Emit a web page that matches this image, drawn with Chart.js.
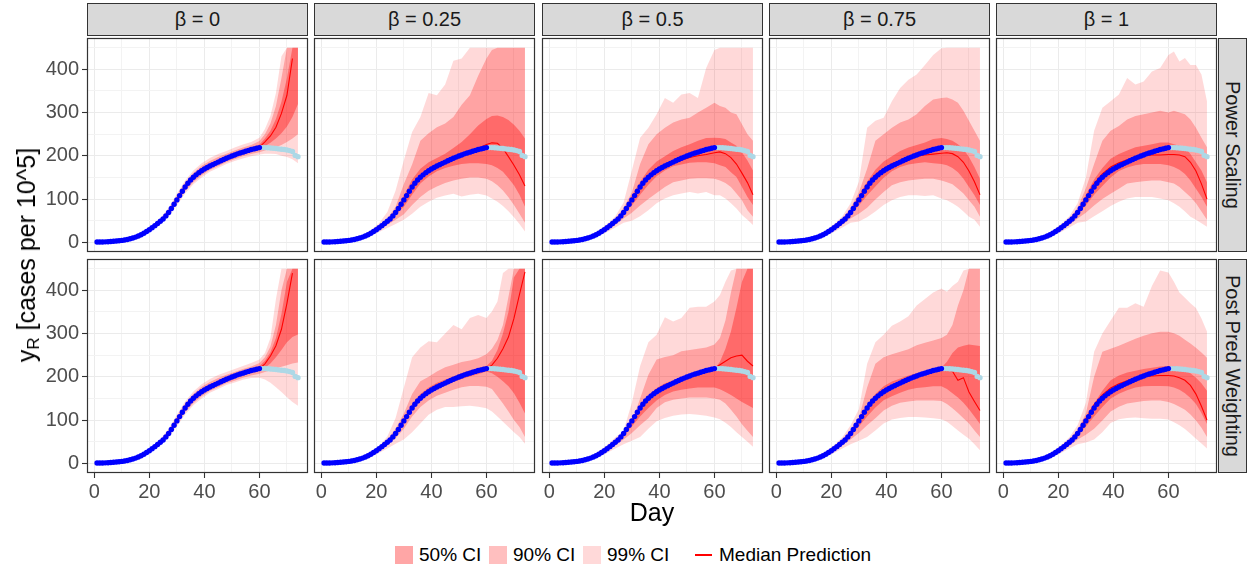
<!DOCTYPE html>
<html>
<head>
<meta charset="utf-8">
<script src="https://cdn.jsdelivr.net/npm/chart.js@4.4.1/dist/chart.umd.min.js"></script>
<style>
  body { margin: 0; background: #fff; font-family: "Liberation Sans", Arial, sans-serif; }
  #wrap { position: relative; width: 1249px; height: 571px; overflow: hidden; background: #fff; }
  canvas { position: absolute; }
  .strip { position: absolute; box-sizing: border-box; background: #d9d9d9; border: 1px solid #333;
           color: #1a1a1a; font-size: 20px; display: flex; align-items: center; justify-content: center; white-space: nowrap; }
  .rstrip { writing-mode: vertical-rl; }
  .title { position: absolute; color: #000; font-size: 25px; white-space: nowrap; }
  .title sub { font-size: 17px; vertical-align: -4px; }
  .lg { position: absolute; font-size: 19px; color: #000; white-space: nowrap; }
  .sw { position: absolute; width: 18px; height: 18px; }
</style>
</head>
<body>
<div id="wrap"></div>
<script>
// observed cases, days 1-60 (blue) and held-out days 61-74 (light blue)
const obsDays = Array.from({ length: 60 }, (_, i) => i + 1);
const observed = [0.5, 0.6, 0.8, 1, 1.3, 1.7, 2.2, 2.8, 3.5, 4.3, 5.3, 6.5, 8, 9.8, 12, 14.5, 17.5, 21, 25, 29,
  33.5, 38.5, 43.5, 48.5, 54, 61, 69, 78, 88, 98, 108, 118, 128, 136.5, 144, 150.5, 156, 161, 165.5, 169.5,
  173, 176.5, 179.5, 182.5, 185.5, 188.5, 191.5, 194.5, 197, 199.5, 202, 204.5, 206.5, 208.5, 210.5, 212.5, 214.5, 216, 217.5, 219];
const heldDays = [61, 62, 63, 64, 65, 66, 67, 68, 69, 70, 71, 72, 73, 74];
const heldOut = [219, 219, 218.5, 218, 217.5, 217, 216, 215, 214.5, 213.5, 212, 210, 201, 198];

// days at which the prediction bands were read
const bandDays = [1, 10, 15, 18, 21, 24, 27, 30, 33, 36, 39, 42, 45, 48, 51, 54, 57, 60, 62, 64, 66, 68, 70, 72, 74];

const rowLabels = ['Power Scaling', 'Post Pred Weighting'];
const betaLabels = ['0', '0.25', '0.5', '0.75', '1'];

const xTicks = [0, 10, 20, 30, 40, 50, 60, 70];
const yTicks = [0, 50, 100, 150, 200, 250, 300, 350, 400, 450];

// Power Scaling row
const PS_0 = {
  med:  [0.5, 4.3, 12, 21, 33.5, 49, 70, 99, 129, 150, 166, 177, 186, 195, 202, 209, 214, 220, 232, 246, 266, 298, 340, 425, null],
  hi50: [0.6, 5, 13, 22, 35, 51, 73, 103, 133, 155, 171, 182, 191, 199, 206, 213, 219, 226, 240, 258, 285, 325, 380, 450, 450],
  lo50: [0.4, 3.8, 11, 20, 32, 47, 67, 95, 124, 145, 161, 172, 181, 190, 197, 204, 210, 214, 222, 230, 240, 252, 268, 290, 320],
  hi90: [0.7, 5.5, 14, 24, 37, 53, 76, 107, 138, 160, 177, 188, 197, 205, 212, 219, 225, 234, 250, 275, 315, 380, 450, 450, 450],
  lo90: [0.3, 3.3, 10, 18.5, 30, 44, 63, 90, 118, 139, 155, 167, 176, 185, 192, 199, 204, 208, 212, 216, 220, 225, 232, 240, 250],
  hi99: [0.8, 6, 15, 25, 39, 56, 80, 112, 143, 166, 183, 195, 204, 211, 219, 226, 232, 242, 262, 292, 345, 430, 450, 450, 450],
  lo99: [0.2, 2.8, 9, 17, 28, 41, 59, 85, 113, 134, 150, 163, 172, 181, 188, 194, 199, 203, 205, 205, 204, 200, 197, 192, 183]
};
const PS_25 = {
  med:  [0.5, 4.3, 12, 21, 33.5, 49, 70, 99, 130, 153, 168, 179, 189, 197, 204, 210, 217, 226, 230, 229, 217, 198, 178, 156, 130],
  hi50: [0.6, 5, 13, 22.5, 35, 51, 75, 108, 145, 170, 185, 195, 205, 218, 232, 250, 270, 285, 292, 293, 290, 283, 272, 258, 240],
  lo50: [0.4, 3.8, 11, 19.5, 31, 45, 63, 82, 110, 136, 152, 164, 172, 177, 181, 183, 183, 181, 178, 172, 163, 148, 132, 110, 82],
  hi90: [0.7, 5.8, 15, 25, 38, 55, 82, 135, 180, 235, 252, 266, 275, 290, 318, 340, 385, 425, 445, 450, 450, 450, 450, 450, 450],
  lo90: [0.3, 3.2, 9.5, 17, 28, 40, 52, 65, 86, 105, 119, 129, 137, 143, 147, 150, 150, 147, 141, 132, 120, 104, 86, 66, 45],
  hi99: [0.8, 6.5, 17, 28, 44, 70, 120, 190, 255, 290, 345, 340, 365, 420, 425, 450, 450, 450, 450, 450, 450, 450, 450, 450, 450],
  lo99: [0.2, 2.6, 8.5, 15, 24, 33, 42, 52, 66, 82, 94, 103, 108, 112, 106, 110, 112, 108, 101, 94, 84, 72, 58, 42, 25]
};
const PS_50 = {
  med:  [0.5, 4.3, 12, 21, 33.5, 49, 70, 99, 129, 151, 165, 175, 183, 190, 196, 200, 203, 207, 209, 205, 196, 181, 160, 138, 110],
  hi50: [0.6, 5, 13, 22.5, 35, 51, 74, 108, 140, 168, 187, 199, 211, 220, 227, 235, 241, 242, 241, 239, 231, 223, 208, 189, 166],
  lo50: [0.4, 3.8, 11, 19.5, 31, 45, 64, 85, 110, 133, 153, 166, 176, 180, 184, 185, 185, 183, 178, 174, 162, 151, 128, 105, 86],
  hi90: [0.7, 5.8, 15, 25, 38, 55, 80, 115, 181, 227, 250, 265, 277, 284, 288, 300, 311, 323, 315, 311, 300, 296, 273, 250, 235],
  lo90: [0.3, 3.2, 9.5, 17, 28, 40, 55, 68, 85, 100, 114, 128, 139, 143, 147, 148, 148, 147, 143, 137, 128, 113, 97, 74, 59],
  hi99: [0.8, 6.5, 17, 28, 42, 60, 92, 166, 242, 265, 296, 334, 323, 342, 345, 334, 403, 445, 450, 450, 450, 450, 450, 450, 450],
  lo99: [0.2, 2.6, 8.5, 15, 24, 34, 45, 50, 60, 74, 90, 101, 109, 113, 116, 113, 116, 109, 109, 101, 90, 78, 63, 52, 40]
};
const PS_75 = {
  med:  [0.5, 4.3, 12, 21, 33.5, 49, 71, 101, 133, 156, 171, 181, 188, 194, 199, 202, 204, 206, 207, 205, 198, 185, 165, 140, 110],
  hi50: [0.6, 5, 13, 22.5, 35, 51, 74, 108, 140, 168, 187, 199, 211, 219, 225, 231, 239, 241, 239, 235, 227, 216, 197, 174, 147],
  lo50: [0.4, 3.8, 11, 19.5, 31, 45, 64, 85, 108, 129, 149, 164, 174, 180, 183, 185, 183, 181, 178, 172, 162, 147, 128, 109, 86],
  hi90: [0.7, 5.8, 15, 25, 38, 55, 80, 115, 170, 235, 250, 265, 277, 284, 296, 315, 330, 334, 335, 330, 323, 304, 281, 258, 235],
  lo90: [0.3, 3.2, 9.5, 17, 28, 40, 55, 66, 80, 99, 116, 132, 139, 143, 145, 147, 147, 143, 139, 134, 124, 113, 97, 82, 59],
  hi99: [0.8, 6.5, 17, 28, 42, 60, 90, 140, 265, 281, 288, 326, 357, 376, 388, 410, 433, 449, 450, 450, 450, 450, 450, 450, 450],
  lo99: [0.2, 2.6, 8.5, 15, 24, 34, 45, 48, 58, 71, 86, 97, 105, 109, 109, 107, 109, 101, 97, 90, 82, 71, 59, 52, 36]
};
const PS_100 = {
  med:  [0.5, 4.3, 12, 21, 33.5, 49, 71, 102, 136, 158, 174, 184, 191, 196, 200, 202, 202, 203, 203, 202, 198, 185, 165, 135, 100],
  hi50: [0.6, 5, 13, 22.5, 35, 51, 74, 110, 145, 172, 193, 204, 212, 220, 223, 227, 231, 231, 227, 223, 220, 204, 185, 166, 139],
  lo50: [0.4, 3.8, 11, 19.5, 31, 45, 64, 85, 110, 130, 150, 165, 173, 178, 181, 181, 181, 178, 174, 168, 158, 143, 124, 105, 82],
  hi90: [0.7, 5.8, 15, 25, 38, 55, 80, 125, 181, 235, 258, 269, 284, 292, 296, 300, 304, 300, 304, 300, 296, 284, 265, 242, 220],
  lo90: [0.3, 3.2, 9.5, 17, 28, 40, 55, 68, 85, 100, 112, 124, 136, 139, 141, 143, 143, 139, 136, 128, 116, 105, 90, 71, 52],
  hi99: [0.8, 6.5, 17, 28, 42, 60, 90, 150, 258, 311, 326, 342, 380, 365, 372, 395, 403, 433, 441, 418, 426, 410, 410, 388, 326],
  lo99: [0.2, 2.6, 8.5, 15, 24, 34, 45, 48, 60, 72, 84, 94, 101, 105, 105, 105, 101, 97, 90, 82, 71, 59, 52, 44, 36]
};

// Post Pred Weighting row
const PP_0 = {
  med:  [0.5, 4.3, 12, 21, 33.5, 49, 70, 99, 129, 150, 166, 177, 186, 195, 202, 209, 214, 219, 230, 248, 272, 310, 370, 440, null],
  hi50: [0.6, 5, 13, 22, 35, 51, 73, 103, 133, 155, 171, 182, 191, 199, 205, 212, 218, 225, 237, 257, 290, 345, 420, 450, 450],
  lo50: [0.4, 3.8, 11, 20, 32, 47, 67, 95, 124, 145, 161, 172, 181, 190, 197, 204, 209, 214, 221, 231, 245, 262, 280, 292, 298],
  hi90: [0.7, 5.5, 14, 24, 37, 53, 76, 107, 138, 160, 177, 188, 197, 205, 211, 218, 224, 232, 245, 270, 320, 400, 450, 450, 450],
  lo90: [0.3, 3.3, 10, 18.5, 30, 44, 63, 90, 118, 139, 155, 167, 176, 185, 191, 198, 203, 207, 211, 215, 219, 223, 227, 231, 233],
  hi99: [0.8, 6, 15, 25, 39, 56, 80, 112, 143, 166, 183, 195, 204, 211, 218, 225, 232, 240, 255, 290, 380, 450, 450, 450, 450],
  lo99: [0.2, 2.8, 9, 17, 28, 41, 59, 85, 113, 134, 150, 163, 172, 181, 187, 193, 197, 198, 194, 186, 176, 165, 153, 142, 133]
};
const PP_25 = {
  med:  [0.5, 4.3, 12, 21, 33.5, 49, 70, 99, 129, 151, 166, 178, 187, 195, 202, 209, 214, 220, 227, 243, 265, 292, 335, 390, 443],
  hi50: [0.6, 5, 13, 22.5, 35, 51, 74, 105, 137, 160, 175, 186, 194, 201, 208, 215, 220, 225, 237, 262, 300, 350, 430, 450, 450],
  lo50: [0.4, 3.8, 11, 19.5, 31, 46, 66, 94, 124, 145, 160, 171, 180, 188, 195, 201, 206, 212, 208, 200, 190, 178, 162, 140, 115],
  hi90: [0.7, 5.8, 15, 25, 38, 55, 80, 115, 160, 190, 200, 212, 222, 228, 234, 238, 243, 252, 265, 285, 320, 385, 450, 450, 450],
  lo90: [0.3, 3.2, 9.5, 17, 28, 41, 58, 80, 108, 130, 145, 156, 163, 170, 176, 179, 179, 177, 172, 155, 138, 120, 100, 84, 61],
  hi99: [0.8, 6.5, 17, 28, 40, 62, 105, 175, 245, 268, 282, 280, 300, 320, 310, 336, 343, 336, 351, 374, 440, 450, 450, 450, 450],
  lo99: [0.2, 2.6, 8.5, 15, 24, 34, 45, 55, 72, 92, 112, 124, 130, 130, 132, 133, 131, 127, 120, 108, 96, 84, 72, 61, 45]
};
const PP_50 = {
  med:  [0.5, 4.3, 12, 21, 33.5, 49, 70, 99, 129, 151, 166, 178, 187, 195, 202, 209, 214, 220, 228, 236, 244, 248, 250, 236, 225],
  hi50: [0.6, 5, 13, 22.5, 35, 51, 74, 105, 135, 158, 174, 185, 192, 199, 205, 211, 215, 218, 235, 265, 305, 360, 420, 450, 450],
  lo50: [0.4, 3.8, 11, 19.5, 31, 45, 63, 85, 108, 128, 145, 158, 166, 170, 173, 175, 175, 175, 171, 165, 158, 150, 142, 135, 128],
  hi90: [0.7, 5.8, 15, 25, 38, 55, 70, 95, 150, 205, 240, 246, 250, 259, 262, 265, 268, 275, 290, 330, 395, 450, 450, 450, 450],
  lo90: [0.3, 3.2, 9.5, 17, 28, 41, 55, 70, 88, 104, 128, 141, 147, 150, 152, 152, 152, 150, 147, 138, 124, 108, 90, 75, 61],
  hi99: [0.8, 6.5, 17, 28, 42, 60, 75, 140, 225, 280, 297, 338, 328, 336, 360, 362, 362, 374, 389, 420, 446, 450, 450, 450, 450],
  lo99: [0.2, 2.6, 8.5, 15, 24, 34, 44, 52, 61, 80, 97, 105, 110, 113, 114, 112, 110, 106, 102, 94, 84, 72, 61, 50, 38]
};
const PP_75 = {
  med:  [0.5, 4.3, 12, 21, 33.5, 49, 70, 99, 129, 151, 166, 178, 187, 195, 202, 209, 214, 219, 218, 213, 192, 198, 165, 143, 122],
  hi50: [0.6, 5, 13, 22.5, 35, 51, 74, 105, 135, 160, 178, 189, 196, 203, 208, 213, 218, 221, 235, 255, 268, 272, 275, 273, 271],
  lo50: [0.4, 3.8, 11, 19.5, 31, 45, 63, 85, 108, 129, 146, 155, 163, 170, 174, 176, 178, 178, 172, 162, 152, 140, 125, 108, 91],
  hi90: [0.7, 5.8, 15, 25, 38, 55, 78, 105, 175, 230, 245, 252, 258, 264, 273, 279, 284, 290, 297, 320, 365, 400, 450, 450, 450],
  lo90: [0.3, 3.2, 9.5, 17, 28, 41, 55, 70, 88, 104, 122, 133, 140, 143, 145, 145, 145, 144, 137, 127, 116, 104, 92, 76, 61],
  hi99: [0.8, 6.5, 17, 28, 42, 60, 88, 125, 230, 280, 297, 318, 328, 340, 365, 380, 395, 404, 397, 410, 420, 446, 450, 450, 450],
  lo99: [0.2, 2.6, 8.5, 15, 24, 34, 44, 52, 61, 76, 92, 101, 105, 107, 107, 106, 104, 102, 96, 86, 76, 66, 57, 44, 30]
};
const PP_100 = {
  med:  [0.5, 4.3, 12, 21, 33.5, 49, 71, 102, 136, 158, 174, 184, 191, 196, 200, 202, 203, 203, 202, 198, 192, 180, 160, 132, 100],
  hi50: [0.6, 5, 13, 22.5, 35, 51, 74, 108, 138, 168, 192, 203, 210, 214, 218, 221, 224, 225, 225, 221, 216, 208, 198, 185, 168],
  lo50: [0.4, 3.8, 11, 19.5, 31, 45, 63, 85, 108, 130, 150, 161, 169, 175, 178, 179, 179, 178, 175, 170, 162, 151, 137, 116, 91],
  hi90: [0.7, 5.8, 15, 25, 38, 55, 78, 115, 200, 258, 265, 272, 280, 288, 295, 301, 304, 304, 301, 295, 286, 277, 267, 256, 244],
  lo90: [0.3, 3.2, 9.5, 17, 28, 40, 55, 66, 80, 99, 120, 131, 138, 141, 144, 145, 145, 142, 137, 131, 124, 113, 99, 82, 61],
  hi99: [0.8, 6.5, 17, 28, 42, 60, 88, 140, 258, 300, 330, 360, 360, 370, 362, 410, 446, 441, 420, 395, 383, 370, 359, 335, 305],
  lo99: [0.2, 2.6, 8.5, 15, 24, 34, 44, 48, 55, 72, 93, 102, 105, 106, 104, 103, 103, 101, 95, 88, 79, 68, 57, 46, 34]
};

const panels = [
  [PS_0, PS_25, PS_50, PS_75, PS_100],
  [PP_0, PP_25, PP_50, PP_75, PP_100]
];

// layout (pixels)
const colLeft = [87, 314, 542, 769, 996];
const rowTop = [38, 259];
const panelW = 221, panelH = 214;
const pad = 20;
const xMin = -2.65, xMax = 77.65, yMin = -22.5, yMax = 472.5;

const band50 = 'rgba(255,0,0,0.35)';
const band90 = 'rgba(255,0,0,0.25)';
const band99 = 'rgba(255,0,0,0.15)';
const fontFam = '"Liberation Sans", Arial, sans-serif';

const wrap = document.getElementById('wrap');

const pts = (xs, ys) => xs.map((x, i) => ({ x: x, y: ys[i] }));

const panelBox = {
    id: 'panelBox',
    afterDraw(chart) {
        const a = chart.chartArea;
        const c = chart.ctx;
        c.save();
        c.strokeStyle = '#333333';
        c.lineWidth = 1.2;
        c.strokeRect(Math.round(a.left) + 0.5, Math.round(a.top) + 0.5,
            Math.round(a.right - a.left) - 1, Math.round(a.bottom - a.top) - 1);
        c.restore();
    }
};

function ribbon(hi, lo, color) {
    return [
        { data: pts(bandDays, hi), fill: '+1', backgroundColor: color, borderWidth: 0,
          borderColor: 'rgba(0,0,0,0)', pointRadius: 0 },
        { data: pts(bandDays, lo), fill: false, borderWidth: 0,
          borderColor: 'rgba(0,0,0,0)', pointRadius: 0 }
    ];
}

function makePanel(r, c) {
    const p = panels[r][c];
    const isLeft = c === 0;
    const isBottom = r === 1;

    const yAxisW = isLeft ? colLeft[0] : 0;
    const xAxisH = isBottom ? 30 : 0;
    const padL = isLeft ? 0 : pad;
    const padB = isBottom ? 0 : pad;

    const canvas = document.createElement('canvas');
    canvas.width = padL + yAxisW + panelW + pad;
    canvas.height = pad + panelH + xAxisH + padB;
    canvas.style.left = (colLeft[c] - yAxisW - padL) + 'px';
    canvas.style.top = (rowTop[r] - pad) + 'px';
    wrap.appendChild(canvas);

    new Chart(canvas.getContext('2d'), {
        type: 'line',
        data: {
            datasets: [
                { data: pts(obsDays, observed), showLine: false, pointRadius: 2.7,
                  pointBackgroundColor: '#0000ff', pointBorderWidth: 0 },
                { data: pts(heldDays, heldOut), showLine: false, pointRadius: 2.7,
                  pointBackgroundColor: '#add8e6', pointBorderWidth: 0 },
                { data: pts(bandDays, p.med), borderColor: '#ff0000', borderWidth: 1.1,
                  pointRadius: 0, fill: false, spanGaps: false },
                ...ribbon(p.hi50, p.lo50, band50),
                ...ribbon(p.hi90, p.lo90, band90),
                ...ribbon(p.hi99, p.lo99, band99)
            ]
        },
        options: {
            responsive: false,
            animation: false,
            events: [],
            layout: { padding: { left: padL, right: pad, top: pad, bottom: padB } },
            elements: { line: { tension: 0 } },
            plugins: { legend: { display: false }, tooltip: { enabled: false } },
            scales: {
                x: {
                    type: 'linear', min: xMin, max: xMax,
                    afterBuildTicks: axis => { axis.ticks = xTicks.map(v => ({ value: v })); },
                    afterFit: axis => { axis.height = xAxisH; },
                    border: { display: false },
                    grid: {
                        color: ctx => (ctx.tick && ctx.tick.value % 20 === 0) ? '#ebebeb' : '#f3f3f3',
                        lineWidth: 1,
                        drawTicks: isBottom,
                        tickLength: 5,
                        tickWidth: 1.1,
                        tickColor: ctx => (ctx.tick && ctx.tick.value % 20 === 0) ? '#333333' : 'rgba(0,0,0,0)'
                    },
                    ticks: {
                        display: isBottom, autoSkip: false, maxRotation: 0, padding: 2,
                        color: '#4d4d4d', font: { family: fontFam, size: 20 },
                        callback: v => (v % 20 === 0 ? String(v) : '')
                    }
                },
                y: {
                    type: 'linear', min: yMin, max: yMax,
                    afterBuildTicks: axis => { axis.ticks = yTicks.map(v => ({ value: v })); },
                    afterFit: axis => { axis.width = yAxisW; },
                    border: { display: false },
                    grid: {
                        color: ctx => (ctx.tick && ctx.tick.value % 100 === 0) ? '#ebebeb' : '#f3f3f3',
                        lineWidth: 1,
                        drawTicks: isLeft,
                        tickLength: 5,
                        tickWidth: 1.1,
                        tickColor: ctx => (ctx.tick && ctx.tick.value % 100 === 0) ? '#333333' : 'rgba(0,0,0,0)'
                    },
                    ticks: {
                        display: isLeft, autoSkip: false, padding: 3,
                        color: '#4d4d4d', font: { family: fontFam, size: 20 },
                        callback: v => (v % 100 === 0 ? String(v) : '')
                    }
                }
            }
        },
        plugins: [panelBox]
    });
}

// facet strips
betaLabels.forEach((b, c) => {
    const s = document.createElement('div');
    s.className = 'strip';
    s.style.left = colLeft[c] + 'px';
    s.style.top = '3px';
    s.style.width = panelW + 'px';
    s.style.height = '33px';
    s.textContent = 'β = ' + b;
    wrap.appendChild(s);
});
rowLabels.forEach((lab, r) => {
    const s = document.createElement('div');
    s.className = 'strip rstrip';
    s.style.left = (colLeft[4] + panelW + 1) + 'px';
    s.style.top = rowTop[r] + 'px';
    s.style.width = '29px';
    s.style.height = panelH + 'px';
    s.textContent = lab;
    wrap.appendChild(s);
});

for (let r = 0; r < 2; r++) {
    for (let c = 0; c < 5; c++) {
        makePanel(r, c);
    }
}

// axis titles
const yt = document.createElement('div');
yt.className = 'title';
yt.innerHTML = 'y<sub>R</sub> [cases per 10^5]';
yt.style.left = '28px';
yt.style.top = '255px';
yt.style.transform = 'translate(-50%, -50%) rotate(-90deg)';
wrap.appendChild(yt);

const xt = document.createElement('div');
xt.className = 'title';
xt.textContent = 'Day';
xt.style.left = '652px';
xt.style.top = '512px';
xt.style.transform = 'translate(-50%, -50%)';
wrap.appendChild(xt);

// legend
const legendItems = [
    { kind: 'box', color: band50, label: '50% CI', x: 395 },
    { kind: 'box', color: band90, label: '90% CI', x: 489 },
    { kind: 'box', color: band99, label: '99% CI', x: 583 },
    { kind: 'line', color: '#ff0000', label: 'Median Prediction', x: 695 }
];
legendItems.forEach(it => {
    const k = document.createElement('div');
    k.className = 'sw';
    k.style.left = it.x + 'px';
    k.style.top = '546px';
    if (it.kind === 'box') {
        k.style.background = it.color;
    } else {
        k.style.width = '17px';
        k.style.height = '2px';
        k.style.top = '554px';
        k.style.background = it.color;
    }
    wrap.appendChild(k);
    const t = document.createElement('div');
    t.className = 'lg';
    t.textContent = it.label;
    t.style.left = (it.x + 24) + 'px';
    t.style.top = '544px';
    wrap.appendChild(t);
});
</script>
</body>
</html>
